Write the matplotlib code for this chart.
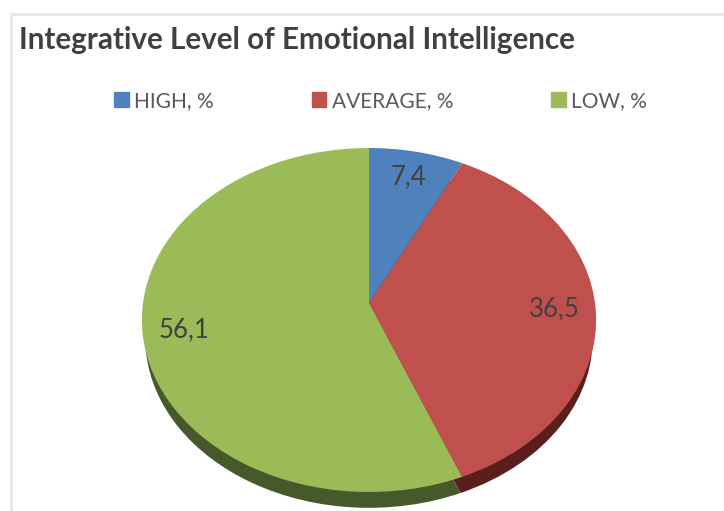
import matplotlib
matplotlib.use("Agg")
import matplotlib.pyplot as plt
from matplotlib.lines import Line2D
from matplotlib.transforms import Transform, Affine2D
import numpy as np

title = "Integrative Level of Emotional Intelligence"
categories = ["HIGH, %", "AVERAGE, %", "LOW, %"]
values = [7.4, 36.5, 56.1]
top_colors = ["#4F81BD", "#C0504D", "#9BBB59"]
side_colors = ["#2B4568", "#5A1E1C", "#46592A"]

W, H = 724, 511
cx, cy, depth = 369, 303, 19
bx, by, k = 226.0, 170.3, 0.0988


class Perspective(Transform):
    """Tilted-disc projection of the pie plane into pixels around the apex."""
    input_dims = 2
    output_dims = 2
    is_separable = False
    has_inverse = False

    def transform_non_affine(self, xy):
        xy = np.asarray(xy, dtype=float)
        d = 1 + k * xy[:, 1]
        return np.column_stack([bx * xy[:, 0] / d, by * xy[:, 1] / d])


plt.rcParams["font.family"] = ["Lato", "DejaVu Sans"]
fig = plt.figure(figsize=(W / 100, H / 100), dpi=100, facecolor="white")
ax = fig.add_axes([0, 0, 1, 1])

fmt = lambda p: f"{p:.1f}".replace(".", ",")
side, _ = ax.pie(values, colors=side_colors, startangle=90, counterclock=False,
                 radius=0.985)
wedges, _, autotexts = ax.pie(values, colors=top_colors, startangle=90,
                              counterclock=False, autopct=fmt, pctdistance=0.82,
                              textprops=dict(fontsize=18.5, color="#404040"))
ax.set_aspect("auto")
ax.set_xlim(-cx, W - cx)
ax.set_ylim(cy - H, cy)
ax.axis("off")

persp = Perspective()
for w in wedges:
    w.set_transform(persp + ax.transData)
    w.set_clip_on(False)
for w in side:
    w.set_transform(persp + ax.transData + Affine2D().translate(0, -depth))
    w.set_clip_on(False)
for t in autotexts:
    t.set_transform(persp + ax.transData)

# card border
fig.add_artist(Line2D([11 / W, 11 / W, 1], [0, 1 - 14 / H, 1 - 14 / H],
                      color="#E8E8E8", lw=2))

fig.text(19 / W, 1 - 39.5 / H, title, fontsize=21.3, fontweight="bold",
         color="#404040", ha="left", va="center")

handles = [plt.Rectangle((0, 0), 1, 1, color=c) for c in top_colors]
leg = fig.legend(handles, categories, ncols=3, loc="center",
                 bbox_to_anchor=(380.5 / W, 1 - 101 / H), frameon=False,
                 fontsize=15, handlelength=0.7, handleheight=0.7,
                 handletextpad=0.25, columnspacing=4.7, labelcolor="#595959")

fig.savefig("out.png", dpi=100)
